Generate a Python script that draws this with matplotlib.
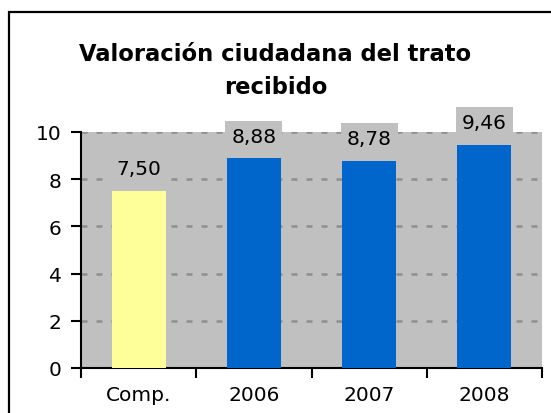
import matplotlib
matplotlib.use("Agg")
import matplotlib.pyplot as plt
from matplotlib.patches import Rectangle

categories = ["Comp.", "2006", "2007", "2008"]
values = [7.50, 8.88, 8.78, 9.46]
bar_colors = ["#FFFF99", "#0066CC", "#0066CC", "#0066CC"]
y_ticks = [0, 2, 4, 6, 8, 10]
title = "Valoración ciudadana del trato\nrecibido"

plt.rcParams["font.family"] = ["DejaVu Sans"]

fig = plt.figure(figsize=(5.51, 4.14), dpi=100)
fig.patch.set_facecolor("white")

# outer chart frame
fig.patches.append(Rectangle((9 / 551, -0.1), 1.2, 1 - 12.5 / 414 + 0.1,
                             transform=fig.transFigure, fill=False,
                             edgecolor="black", linewidth=1.6))

ax = fig.add_axes([81 / 551, 1 - 369 / 414, (542 - 81) / 551, (369 - 133) / 414])
ax.set_facecolor("#C0C0C0")

x = list(range(len(categories)))
ax.bar(x, values, width=0.47, color=bar_colors, zorder=3)

ax.set_xlim(-0.5, len(categories) - 0.5)
ax.set_ylim(0, 10)
ax.set_yticks(y_ticks)
ax.set_yticklabels([str(t) for t in y_ticks], fontsize=14.5)
ax.tick_params(axis="y", direction="out", length=7, width=1.5, pad=7)

# category labels centred, tick marks on category boundaries
ax.set_xticks(x)
ax.set_xticklabels(categories, fontsize=14.5)
ax.tick_params(axis="x", length=0, pad=12)
ax.set_xticks([i - 0.5 for i in range(len(categories) + 1)], minor=True)
ax.tick_params(axis="x", which="minor", direction="out", length=7, width=1.5)

ax.yaxis.grid(True, linestyle=(0, (2.4, 3.6)), color="#8E8E8E", linewidth=1.8, zorder=1)
ax.set_axisbelow(True)

for side in ("top", "right"):
    ax.spines[side].set_visible(False)
for side in ("left", "bottom"):
    ax.spines[side].set_linewidth(1.5)

for xi, v in zip(x, values):
    ax.annotate(f"{v:.2f}".replace(".", ","), xy=(xi, v), xytext=(0, 16),
                textcoords="offset points", ha="center", va="center",
                fontsize=14.5, zorder=4, annotation_clip=False,
                bbox=dict(boxstyle="square,pad=0.3", fc="#C0C0C0", ec="none"))

fig.text(0.5, 1 - 71 / 414, title, ha="center", va="center",
         fontsize=16.3, fontweight="bold", linespacing=1.55)

fig.savefig("out.png", dpi=100)
